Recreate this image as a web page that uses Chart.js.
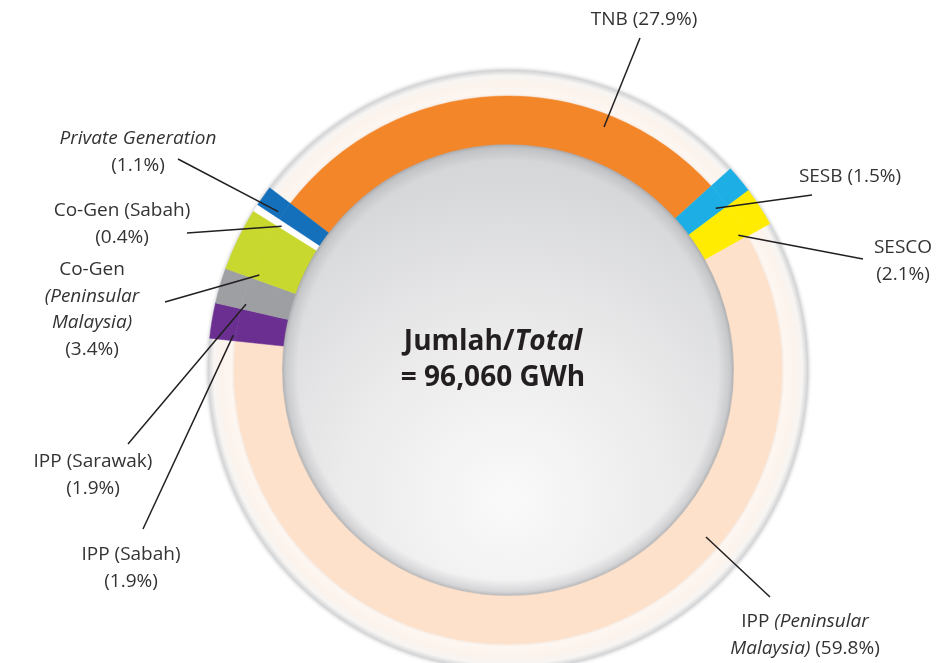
<!DOCTYPE html>
<html>
<head>
<meta charset="utf-8">
<script src="https://cdn.jsdelivr.net/npm/chart.js@4.4.1/dist/chart.umd.min.js"></script>
<style>
html, body { margin: 0; padding: 0; background: #fff; }
#wrap { width: 952px; height: 663px; }
</style>
</head>
<body>
<div id="wrap"><canvas id="chart"></canvas></div>
<script>
// Data
const categories = ['TNB', 'SESB', 'SESCO', 'IPP (Peninsular Malaysia)', 'IPP (Sabah)', 'IPP (Sarawak)',
    'Co-Gen (Peninsular Malaysia)', 'Co-Gen (Sabah)', 'Private Generation'];
const shares = [27.9, 1.5, 2.1, 59.8, 1.9, 1.9, 3.4, 0.4, 1.1];
const colours = ['#f4862a', '#1caee4', '#ffec00', '#fde1cb', '#6a2f91', '#9d9fa2', '#c8d82e', '#ffffff', '#1570bb'];
// small producers stick out past the main ring
const raised = [false, true, true, false, true, true, true, true, true];
// {p} = share, *...* = italic
const labelLines = [
    ['TNB {p}'],
    ['SESB {p}'],
    ['SESCO', '{p}'],
    ['IPP *(Peninsular*', '*Malaysia)* {p}'],
    ['IPP (Sabah)', '{p}'],
    ['IPP (Sarawak)', '{p}'],
    ['Co-Gen', '*(Peninsular*', '*Malaysia)*', '{p}'],
    ['Co-Gen (Sabah)', '{p}'],
    ['*Private Generation*', '{p}']
];
const totalLines = ['Jumlah/*Total*', '= 96,060 GWh'];

// label placement: text centre x, first line y, leader end x, y, wanted tip x, y (tip is kept inside its slice)
const labelPlaces = [
    [644, 20, 640, 38, 604, 127],
    [850, 177, 812, 195, 737, 240],
    [903, 248, 863, 259, 760, 282],
    [805, 622, 770, 597, 706, 537],
    [131, 555, 143, 529, 232, 392],
    [93, 462, 128, 444, 238, 362],
    [92, 270, 165, 302, 248, 313],
    [122, 211, 187, 233, 260, 268],
    [138, 139, 178, 159, 258, 246]
];

const FONT = '"Open Sans", sans-serif';
const TEXT = '#333333';

function richText(ctx, str, cx, y, size, weight){
    const parts = str.split('*');
    const fonts = parts.map((p, i) => (i % 2 ? 'italic ' : '') + weight + ' ' + size + 'px ' + FONT);
    let w = 0;
    parts.forEach((p, i) => { ctx.font = fonts[i]; w += ctx.measureText(p).width; });
    let x = cx - w / 2;
    ctx.textAlign = 'left';
    ctx.textBaseline = 'middle';
    parts.forEach((p, i) => { ctx.font = fonts[i]; ctx.fillText(p, x, y); x += ctx.measureText(p).width; });
}

const decor = {
    id: 'decor',
    beforeDatasetsDraw(chart){
        const ctx = chart.ctx;
        const main = chart.getDatasetMeta(1).data[0];
        const outer = chart.getDatasetMeta(0).data[0];
        const cx = main.x, cy = main.y;
        const rIn = main.innerRadius, rMid = main.outerRadius, rOut = outer.outerRadius;
        ctx.save();
        // pale halo ring round the main band
        const g = ctx.createRadialGradient(cx, cy, rMid - 2, cx, cy, rOut + 5);
        g.addColorStop(0, '#f1e3d8');
        g.addColorStop(0.15, '#fdf6f1');
        g.addColorStop(0.45, '#fcf3ec');
        g.addColorStop(0.68, '#f7f5f3');
        g.addColorStop(0.84, '#d3d4d6');
        g.addColorStop(1, 'rgba(255,255,255,0)');
        ctx.beginPath();
        ctx.arc(cx, cy, rOut + 5, 0, Math.PI * 2);
        ctx.arc(cx, cy, rMid - 2, 0, Math.PI * 2, true);
        ctx.fillStyle = g;
        ctx.fill();
        // silver centre disc
        const d = ctx.createRadialGradient(cx, cy + 130, 10, cx, cy + 130, rIn + 130);
        d.addColorStop(0, '#f9f9f9');
        d.addColorStop(0.45, '#ebebec');
        d.addColorStop(1, '#d3d4d6');
        ctx.beginPath();
        ctx.arc(cx, cy, rIn + 1, 0, Math.PI * 2);
        ctx.fillStyle = d;
        ctx.fill();
        const rim = ctx.createRadialGradient(cx, cy, rIn - 16, cx, cy, rIn + 1);
        rim.addColorStop(0, 'rgba(160,161,165,0)');
        rim.addColorStop(0.7, 'rgba(160,161,165,0.35)');
        rim.addColorStop(1, 'rgba(120,121,125,0.6)');
        ctx.beginPath();
        ctx.arc(cx, cy, rIn + 1, 0, Math.PI * 2);
        ctx.arc(cx, cy, rIn - 16, 0, Math.PI * 2, true);
        ctx.fillStyle = rim;
        ctx.fill();
        ctx.restore();
    },
    afterDatasetsDraw(chart){
        const ctx = chart.ctx;
        const arcs = chart.getDatasetMeta(1).data;
        const outerArcs = chart.getDatasetMeta(0).data;
        ctx.save();
        ctx.strokeStyle = '#231f20';
        ctx.lineWidth = 1.5;
        arcs.forEach((a, i) => {
            const [tx, ty, lx, ly, px, py] = labelPlaces[i];
            // keep the tip of the leader inside its own slice
            const mid = (a.startAngle + a.endAngle) / 2;
            let ang = Math.atan2(py - a.y, px - a.x);
            while (ang < mid - Math.PI) ang += Math.PI * 2;
            while (ang > mid + Math.PI) ang -= Math.PI * 2;
            const m = Math.min(0.3 * (a.endAngle - a.startAngle), 0.02);
            ang = Math.max(a.startAngle + m, Math.min(a.endAngle - m, ang));
            const top = raised[i] ? outerArcs[i].outerRadius : a.outerRadius;
            const r = Math.max(a.innerRadius + 5, Math.min(top - 5, Math.hypot(px - a.x, py - a.y)));
            ctx.beginPath();
            ctx.moveTo(lx, ly);
            ctx.lineTo(a.x + Math.cos(ang) * r, a.y + Math.sin(ang) * r);
            ctx.stroke();
            ctx.fillStyle = TEXT;
            labelLines[i].forEach((ln, k) => {
                const s = ln.replace('{p}', '(' + shares[i].toFixed(1) + '%)');
                richText(ctx, s, tx, ty + k * 26.5, 19, 'normal');
            });
        });
        // total in the middle
        const cx = arcs[0].x, cy = arcs[0].y;
        ctx.fillStyle = '#231f20';
        richText(ctx, totalLines[0], cx - 15, cy - 28, 28, 'bold');
        richText(ctx, totalLines[1], cx - 15, cy + 8, 28, 'bold');
        ctx.restore();
    }
};

new Chart(document.getElementById('chart'), {
    type: 'doughnut',
    data: {
        labels: categories,
        datasets: [
            {
                // outer part, only for the raised segments
                data: shares,
                backgroundColor: colours.map((c, i) => raised[i] ? c : 'rgba(0,0,0,0)'),
                borderColor: colours.map((c, i) => raised[i] ? c : 'rgba(0,0,0,0)'),
                borderWidth: 0.5,
                weight: 26
            },
            {
                data: shares,
                backgroundColor: colours,
                borderColor: colours,
                borderWidth: 0.5,
                weight: 48
            }
        ]
    },
    options: {
        responsive: true,
        maintainAspectRatio: false,
        animation: false,
        rotation: -52.6,
        radius: 300,
        cutout: '75.33%',
        layout: { padding: { left: 64, top: 77, right: 0, bottom: 0 } },
        plugins: { legend: { display: false }, tooltip: { enabled: false } }
    },
    plugins: [decor]
});
</script>
</body>
</html>
